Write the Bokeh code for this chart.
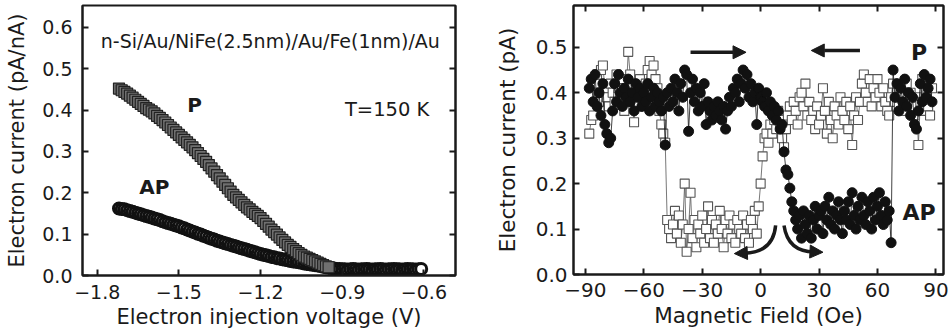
from bokeh.plotting import figure
from bokeh.layouts import row
from bokeh.models import (LinearAxis, FixedTicker, Range1d, Arrow, NormalHead, Label,
                          PrintfTickFormatter)
from bokeh.embed import file_html
from bokeh.resources import INLINE

# ---------------- Left panel: current vs injection voltage ----------------
v_p = [-1.72, -1.71, -1.70, -1.69, -1.68, -1.67, -1.66, -1.65, -1.64, -1.63,
       -1.62, -1.61, -1.60, -1.59, -1.58, -1.57, -1.56, -1.55, -1.54, -1.53,
       -1.52, -1.51, -1.50, -1.49, -1.48, -1.47, -1.46, -1.45, -1.44, -1.43,
       -1.42, -1.41, -1.40, -1.39, -1.38, -1.37, -1.36, -1.35, -1.34, -1.33,
       -1.32, -1.31, -1.30, -1.29, -1.28, -1.27, -1.26, -1.25, -1.24, -1.23,
       -1.22, -1.21, -1.20, -1.19, -1.18, -1.17, -1.16, -1.15, -1.14, -1.13,
       -1.12, -1.11, -1.10, -1.09, -1.08, -1.07, -1.06, -1.05, -1.04, -1.03,
       -1.02, -1.01, -1.00, -0.99, -0.98, -0.97, -0.96, -0.95]
i_p = [0.452, 0.448, 0.444, 0.440, 0.435, 0.430, 0.425, 0.420, 0.415, 0.410,
       0.405, 0.401, 0.397, 0.392, 0.386, 0.381, 0.376, 0.370, 0.364, 0.358,
       0.352, 0.346, 0.340, 0.334, 0.328, 0.322, 0.316, 0.310, 0.303, 0.296,
       0.289, 0.282, 0.275, 0.267, 0.259, 0.251, 0.243, 0.235, 0.227, 0.219,
       0.211, 0.203, 0.195, 0.189, 0.183, 0.177, 0.171, 0.165, 0.160, 0.154,
       0.149, 0.144, 0.139, 0.132, 0.125, 0.118, 0.111, 0.105, 0.099, 0.092,
       0.086, 0.080, 0.074, 0.069, 0.064, 0.059, 0.054, 0.050, 0.046, 0.043,
       0.040, 0.037, 0.034, 0.031, 0.028, 0.025, 0.022, 0.020]

v_ap = [-1.72, -1.71, -1.70, -1.69, -1.68, -1.67, -1.66, -1.65, -1.64, -1.63,
        -1.62, -1.61, -1.60, -1.59, -1.58, -1.57, -1.56, -1.55, -1.54, -1.53,
        -1.52, -1.51, -1.50, -1.49, -1.48, -1.47, -1.46, -1.45, -1.44, -1.43,
        -1.42, -1.41, -1.40, -1.39, -1.38, -1.37, -1.36, -1.35, -1.34, -1.33,
        -1.32, -1.31, -1.30, -1.29, -1.28, -1.27, -1.26, -1.25, -1.24, -1.23,
        -1.22, -1.21, -1.20, -1.19, -1.18, -1.17, -1.16, -1.15, -1.14, -1.13,
        -1.12, -1.11, -1.10, -1.09, -1.08, -1.07, -1.06, -1.05, -1.04, -1.03,
        -1.02, -1.01, -1.00, -0.99, -0.98, -0.97, -0.96, -0.95, -0.94, -0.93,
        -0.92, -0.91, -0.90, -0.89, -0.88, -0.87, -0.86, -0.85, -0.84, -0.83,
        -0.82, -0.81, -0.80, -0.79, -0.78, -0.77, -0.76, -0.75, -0.74, -0.73,
        -0.72, -0.71, -0.70, -0.69, -0.68, -0.67, -0.66, -0.65, -0.64, -0.63,
        -0.62, -0.61]
i_ap = [0.162, 0.161, 0.160, 0.158, 0.156, 0.154, 0.152, 0.150, 0.148, 0.146,
        0.144, 0.142, 0.140, 0.138, 0.136, 0.134, 0.131, 0.129, 0.127, 0.125,
        0.123, 0.121, 0.119, 0.116, 0.114, 0.111, 0.109, 0.106, 0.104, 0.101,
        0.099, 0.096, 0.094, 0.091, 0.089, 0.087, 0.084, 0.082, 0.080, 0.078,
        0.076, 0.074, 0.072, 0.070, 0.068, 0.066, 0.064, 0.062, 0.060, 0.058,
        0.056, 0.054, 0.052, 0.050, 0.049, 0.047, 0.045, 0.044, 0.042, 0.041,
        0.039, 0.038, 0.037, 0.035, 0.034, 0.033, 0.032, 0.031, 0.029, 0.028,
        0.027, 0.026, 0.025, 0.024, 0.023, 0.021, 0.020, 0.019, 0.018, 0.017,
        0.016, 0.016, 0.015, 0.015, 0.014, 0.015, 0.016, 0.015, 0.014, 0.015,
        0.015, 0.016, 0.015, 0.014, 0.015, 0.015, 0.016, 0.015, 0.014, 0.015,
        0.015, 0.016, 0.015, 0.015, 0.014, 0.015, 0.016, 0.015, 0.015, 0.014,
        0.015, 0.016]

left_xticks = [-1.8, -1.5, -1.2, -0.9, -0.6]
left_yticks = [0.0, 0.1, 0.2, 0.3, 0.4, 0.5, 0.6]

# ---------------- Right panel: current vs magnetic field ----------------
field = [-88, -87, -86, -85, -84, -83, -82, -81, -80, -79,
         -78, -77, -76, -75, -74, -73, -72, -71, -70, -69,
         -68, -67, -66, -65, -64, -63, -62, -61, -60, -59,
         -58, -57, -56, -55, -54, -53, -52, -51, -50, -49,
         -48, -47, -46, -45, -44, -43, -42, -41, -40, -39,
         -38, -37, -36, -35, -34, -33, -32, -31, -30, -29,
         -28, -27, -26, -25, -24, -23, -22, -21, -20, -19,
         -18, -17, -16, -15, -14, -13, -12, -11, -10, -9,
         -8, -7, -6, -5, -4, -3, -2, -1, 0, 1,
         2, 3, 4, 5, 6, 7, 8, 9, 10, 11,
         12, 13, 14, 15, 16, 17, 18, 19, 20, 21,
         22, 23, 24, 25, 26, 27, 28, 29, 30, 31,
         32, 33, 34, 35, 36, 37, 38, 39, 40, 41,
         42, 43, 44, 45, 46, 47, 48, 49, 50, 51,
         52, 53, 54, 55, 56, 57, 58, 59, 60, 61,
         62, 63, 64, 65, 66, 67, 68, 69, 70, 71,
         72, 73, 74, 75, 76, 77, 78, 79, 80, 81,
         82, 83, 84, 85, 86, 87, 88]
current_circles = [
    0.41, 0.43, 0.38, 0.44, 0.37, 0.40, 0.35, 0.42, 0.33, 0.31,
    0.29, 0.30, 0.36, 0.42, 0.38, 0.44, 0.40, 0.37, 0.41, 0.39,
    0.43, 0.38, 0.40, 0.36, 0.42, 0.39, 0.41, 0.37, 0.40, 0.38,
    0.42, 0.36, 0.39, 0.41, 0.37, 0.40, 0.38, 0.36, 0.39, 0.285,
    0.40, 0.37, 0.41, 0.38, 0.43, 0.40, 0.36, 0.42, 0.39, 0.45,
    0.44, 0.315, 0.40, 0.43, 0.38, 0.41, 0.36, 0.40, 0.37, 0.42,
    0.33, 0.38, 0.36, 0.34, 0.37, 0.35, 0.38, 0.36, 0.34, 0.37,
    0.32, 0.36, 0.39, 0.37, 0.41, 0.40, 0.43, 0.38, 0.42, 0.45,
    0.41, 0.44, 0.39, 0.42, 0.38, 0.40, 0.33, 0.41, 0.39, 0.38,
    0.37, 0.40, 0.36, 0.38, 0.35, 0.37, 0.34, 0.36, 0.32, 0.33,
    0.27, 0.23, 0.22, 0.19, 0.16, 0.14, 0.12, 0.10, 0.13, 0.08,
    0.14, 0.11, 0.09, 0.13, 0.08, 0.12, 0.15, 0.10, 0.13, 0.14,
    0.09, 0.15, 0.12, 0.17, 0.11, 0.14, 0.10, 0.13, 0.16, 0.12,
    0.09, 0.14, 0.12, 0.16, 0.11, 0.18, 0.13, 0.10, 0.15, 0.12,
    0.17, 0.13, 0.11, 0.16, 0.14, 0.10, 0.17, 0.12, 0.15, 0.18,
    0.13, 0.11, 0.16, 0.12, 0.14, 0.07, 0.45, 0.39, 0.42, 0.36,
    0.41, 0.38, 0.43, 0.37, 0.40, 0.35, 0.39, 0.33, 0.32, 0.36,
    0.42, 0.38, 0.44, 0.39, 0.41, 0.43, 0.38]
current_squares = [
    0.31, 0.34, 0.35, 0.42, 0.44, 0.38, 0.45, 0.46, 0.41, 0.39,
    0.37, 0.42, 0.40, 0.38, 0.44, 0.41, 0.39, 0.43, 0.36, 0.40,
    0.49, 0.44, 0.38, 0.335, 0.41, 0.37, 0.43, 0.40, 0.38, 0.42,
    0.45, 0.47, 0.44, 0.46, 0.43, 0.41, 0.36, 0.33, 0.31, 0.29,
    0.12, 0.10, 0.08, 0.11, 0.14, 0.09, 0.13, 0.07, 0.11, 0.20,
    0.05, 0.10, 0.18, 0.08, 0.12, 0.06, 0.11, 0.09, 0.13, 0.07,
    0.10, 0.15, 0.08, 0.12, 0.07, 0.11, 0.09, 0.14, 0.10, 0.06,
    0.12, 0.09, 0.13, 0.08, 0.11, 0.07, 0.12, 0.10, 0.09, 0.13,
    0.08, 0.11, 0.07, 0.12, 0.10, 0.14, 0.09, 0.15, 0.20, 0.26,
    0.30, 0.31, 0.29, 0.33, 0.31, 0.34, 0.32, 0.36, 0.33, 0.30,
    0.28, 0.32, 0.35, 0.37, 0.34, 0.38, 0.36, 0.33, 0.39, 0.40,
    0.37, 0.42, 0.35, 0.38, 0.34, 0.36, 0.32, 0.37, 0.33, 0.35,
    0.41, 0.36, 0.31, 0.38, 0.34, 0.30, 0.37, 0.35, 0.33, 0.39,
    0.36, 0.34, 0.38, 0.32, 0.37, 0.285, 0.35, 0.39, 0.34, 0.38,
    0.42, 0.44, 0.40, 0.38, 0.43, 0.37, 0.41, 0.39, 0.43, 0.40,
    0.37, 0.41, 0.38, 0.36, 0.35, 0.39, 0.42, 0.38, 0.40, 0.37,
    0.41, 0.39, 0.36, 0.42, 0.38, 0.40, 0.37, 0.35, 0.39, 0.285,
    0.38, 0.43, 0.36, 0.40, 0.37, 0.35, 0.41]

right_xticks = [-90, -60, -30, 0, 30, 60, 90]
right_yticks = [0.0, 0.1, 0.2, 0.3, 0.4, 0.5]

# annotation anchors (data units)
straight_arrows = {"x_start": [-36.0, 51.0], "x_end": [-7.5, 26.0], "y": [0.489, 0.493]}
curved_arrows = {"x0": [7.7, 12.0], "y0": [0.108, 0.108], "cx": [6.5, 14.0], "cy": [0.048, 0.050],
                 "x1": [-8.5, 27.5], "y1": [0.047, 0.050], "tip_x": [-13.5, 32.0], "tip_y": [0.046, 0.049]}

INK = "#1a1a1a"
FONT = "DejaVu Sans"


def style_axis(ax, tick_size, label_size, standoff, label_standoff):
    ax.axis_line_width = 2
    ax.axis_line_color = INK
    ax.major_tick_in = 6
    ax.major_tick_out = 0
    ax.major_tick_line_width = 2
    ax.major_tick_line_color = INK
    ax.minor_tick_line_color = None
    ax.major_label_text_font = FONT
    ax.major_label_text_font_size = tick_size
    ax.major_label_text_color = INK
    ax.major_label_standoff = standoff
    ax.axis_label_text_font = FONT
    ax.axis_label_text_font_size = label_size
    ax.axis_label_text_font_style = "normal"
    ax.axis_label_text_color = INK
    ax.axis_label_standoff = label_standoff


def mirror_axis(p, ticks, side):
    ax = LinearAxis(ticker=FixedTicker(ticks=ticks))
    ax.axis_line_width = 2
    ax.axis_line_color = INK
    ax.major_tick_in = 6
    ax.major_tick_out = 0
    ax.major_tick_line_width = 2
    ax.major_tick_line_color = INK
    ax.minor_tick_line_color = None
    ax.major_label_text_color = None
    ax.major_label_text_font_size = "0px"
    ax.major_label_standoff = 0
    p.add_layout(ax, side)


def base_figure(xr, yr, left, right, top, bottom):
    p = figure(frame_width=476 - left - right, frame_height=334 - top - bottom,
               x_range=Range1d(*xr), y_range=Range1d(*yr),
               output_backend="svg", toolbar_location=None,
               min_border_left=left, min_border_right=right,
               min_border_top=top, min_border_bottom=bottom)
    p.xgrid.visible = False
    p.ygrid.visible = False
    p.outline_line_color = INK
    p.outline_line_width = 2
    p.background_fill_color = "white"
    p.border_fill_color = "white"
    return p


# ---------------- Left figure ----------------
p1 = base_figure((-1.854, -0.484), (0.0, 0.653), 82, 21, 4, 60)
p1.xaxis.ticker = FixedTicker(ticks=left_xticks)
p1.yaxis.ticker = FixedTicker(ticks=left_yticks)
p1.yaxis.formatter = PrintfTickFormatter(format="%.1f")
p1.xaxis.axis_label = "Electron injection voltage (V)"
p1.yaxis.axis_label = "Electron current (pA/nA)"
style_axis(p1.xaxis[0], "19px", "21px", 9, 3)
style_axis(p1.yaxis[0], "19px", "21px", 10, 10)
mirror_axis(p1, left_yticks, "right")

p1.scatter(v_ap, i_ap, marker="circle", size=11, fill_color="white",
           line_color="#111111", line_width=3)
p1.scatter(v_p, i_p, marker="square", size=11, fill_color="#707070",
           line_color="#222222", line_width=1.2)

p1.add_layout(Label(x=-1.442, y=0.412, text="P", text_font=FONT, text_font_size="20px",
                    text_font_style="bold", text_color=INK, text_align="center",
                    text_baseline="middle"))
p1.add_layout(Label(x=-1.59, y=0.215, text="AP", text_font=FONT, text_font_size="20px",
                    text_font_style="bold", text_color=INK, text_align="center",
                    text_baseline="middle"))
p1.add_layout(Label(x=-0.735, y=0.401, text="T=150 K", text_font=FONT, text_font_size="19.5px",
                    text_color=INK, text_align="center", text_baseline="middle"))
p1.add_layout(Label(x=-1.164, y=0.568, text="n-Si/Au/NiFe(2.5nm)/Au/Fe(1nm)/Au", text_font=FONT,
                    text_font_size="19px", text_color=INK, text_align="center",
                    text_baseline="middle"))

# ---------------- Right figure ----------------
p2 = base_figure((-96.1, 93.9), (0.0, 0.592), 97, 9, 5, 60)
p2.xaxis.ticker = FixedTicker(ticks=right_xticks)
p2.yaxis.ticker = FixedTicker(ticks=right_yticks)
p2.yaxis.formatter = PrintfTickFormatter(format="%.1f")
p2.xaxis.axis_label = "Magnetic Field (Oe)"
p2.yaxis.axis_label = "Electron current (pA)"
style_axis(p2.xaxis[0], "20px", "21.5px", 8, 3)
style_axis(p2.yaxis[0], "20px", "21.5px", 6, 13)
mirror_axis(p2, right_yticks, "right")
mirror_axis(p2, right_xticks, "above")

p2.line(field, current_squares, line_color="#555555", line_width=0.8)
p2.scatter(field, current_squares, marker="square", size=9, fill_color="white",
           line_color="#555555", line_width=1.1)
p2.line(field, current_circles, line_color="#111111", line_width=0.8)
p2.scatter(field, current_circles, marker="circle", size=10, fill_color="#111111",
           line_color="#111111", line_width=1)

for k in range(2):
    p2.add_layout(Arrow(end=NormalHead(size=13, fill_color=INK, line_color=INK),
                        x_start=straight_arrows["x_start"][k], y_start=straight_arrows["y"][k],
                        x_end=straight_arrows["x_end"][k], y_end=straight_arrows["y"][k],
                        line_width=3.5, line_color=INK))

p2.quadratic(x0=curved_arrows["x0"], y0=curved_arrows["y0"], x1=curved_arrows["x1"],
             y1=curved_arrows["y1"], cx=curved_arrows["cx"], cy=curved_arrows["cy"],
             line_width=3.5, line_color=INK)
for k in range(2):
    p2.add_layout(Arrow(end=NormalHead(size=13, fill_color=INK, line_color=INK),
                        x_start=curved_arrows["x1"][k], y_start=curved_arrows["y1"][k],
                        x_end=curved_arrows["tip_x"][k], y_end=curved_arrows["tip_y"][k],
                        line_width=3.5, line_color=INK))

p2.add_layout(Label(x=81.4, y=0.489, text="P", text_font=FONT, text_font_size="22px",
                    text_font_style="bold", text_color=INK, text_align="center",
                    text_baseline="middle"))
p2.add_layout(Label(x=81.4, y=0.137, text="AP", text_font=FONT, text_font_size="22px",
                    text_font_style="bold", text_color=INK, text_align="center",
                    text_baseline="middle"))

layout = row(p1, p2)
open("out.html", "w").write(file_html(layout, INLINE))
